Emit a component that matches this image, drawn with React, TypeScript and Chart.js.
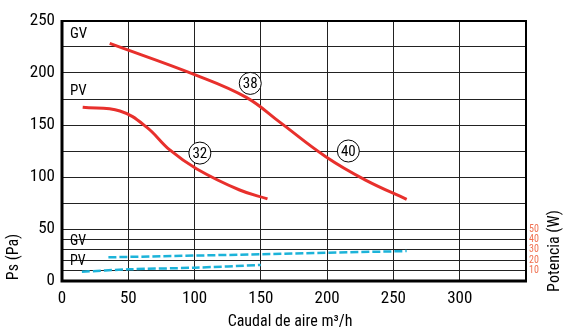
import React, { useEffect, useRef } from 'react';
import { Chart, registerables } from 'chart.js';

Chart.register(...registerables);

const FONT = "'Liberation Sans Narrow', 'Roboto Condensed', 'Roboto', sans-serif";

// Pressure curves (Ps, Pa) vs air flow (m³/h)
const pvQ = [15.6, 43.7, 63.8, 81.3, 101.4, 134, 155];
const pvPs = [167, 163.5, 148, 126, 108, 87.5, 79];
const gvQ = [36, 101, 139, 164, 199, 229, 260];
const gvPs = [228.5, 198, 176.6, 153, 119.5, 97, 78.5];

// Power curves (W) vs air flow
const gvPowQ = [35, 150, 260];
const gvPow = [22.8, 25.7, 28.8];
const pvPowQ = [15, 50, 100, 150];
const pvPow = [8.9, 11.2, 12.8, 15.4];

// Bubble labels on the curves
const bubbleText = ['38', '32', '40'];
const bubbleQ = [142, 104, 216];
const bubblePs = [190, 123, 125];

// Side labels (speed names)
const speedText = ['GV', 'PV', 'GV', 'PV'];
const speedPs = [237, 182, 38, 19];

// Axes
const xTicks = [0, 50, 100, 150, 200, 250, 300, 350];
const yTicks = [0, 10, 20, 30, 40, 50, 75, 100, 125, 150, 175, 200, 225, 250];
const yLabelTicks = [0, 50, 100, 150, 200, 250];
const powerTicks = [10, 20, 30, 40, 50];

const RED = '#e8302c';
const BLUE = '#1cb3d9';

const overlay = {
  id: 'overlay',
  afterDatasetsDraw(chart: any) {
    const { ctx, scales } = chart;
    const sx = scales.x;
    const sy = scales.y;
    ctx.save();
    for (let i = 0; i < bubbleText.length; i++) {
      const px = sx.getPixelForValue(bubbleQ[i]);
      const py = sy.getPixelForValue(bubblePs[i]);
      ctx.beginPath();
      ctx.arc(px, py, 11, 0, Math.PI * 2);
      ctx.fillStyle = '#fff';
      ctx.fill();
      ctx.lineWidth = 1;
      ctx.strokeStyle = '#000';
      ctx.stroke();
      ctx.fillStyle = '#000';
      ctx.font = `15px ${FONT}`;
      ctx.textAlign = 'center';
      ctx.textBaseline = 'middle';
      ctx.fillText(bubbleText[i], px, py + 1);
    }
    ctx.restore();
  },
  afterDraw(chart: any) {
    const { ctx, chartArea: a, scales } = chart;
    const sy = scales.y;
    ctx.save();
    // frame
    ctx.strokeStyle = '#000';
    ctx.lineWidth = 2;
    ctx.beginPath();
    ctx.moveTo(a.left, a.top);
    ctx.lineTo(a.right, a.top);
    ctx.lineTo(a.right, a.bottom);
    ctx.stroke();
    ctx.lineWidth = 3;
    ctx.beginPath();
    ctx.moveTo(a.left, a.top - 1);
    ctx.lineTo(a.left, a.bottom);
    ctx.lineTo(a.right + 1, a.bottom);
    ctx.stroke();

    // speed labels
    ctx.fillStyle = '#000';
    ctx.textAlign = 'left';
    ctx.textBaseline = 'middle';
    for (let i = 0; i < speedText.length; i++) {
      ctx.font = `${i < 2 ? 15 : 14}px ${FONT}`;
      ctx.fillText(speedText[i], a.left + 8, sy.getPixelForValue(speedPs[i]));
    }

    // axis titles
    ctx.font = `16px ${FONT}`;
    ctx.textAlign = 'center';
    ctx.textBaseline = 'middle';
    ctx.fillText('Caudal de aire m³/h', 290, 322);

    ctx.save();
    ctx.translate(14, 257);
    ctx.rotate(-Math.PI / 2);
    ctx.fillText('Ps (Pa)', 0, 0);
    ctx.restore();

    ctx.save();
    ctx.translate(555, 251);
    ctx.rotate(-Math.PI / 2);
    ctx.fillText('Potencia (W)', 0, 0);
    ctx.restore();

    ctx.restore();
  },
};

export default function App() {
  const ref = useRef<HTMLCanvasElement | null>(null);

  useEffect(() => {
    if (!ref.current) return;
    const chart = new Chart(ref.current, {
      type: 'line',
      data: {
        datasets: [
          {
            data: gvPowQ.map((q, i) => ({ x: q, y: gvPow[i] })),
            yAxisID: 'y2',
            borderColor: BLUE,
            borderWidth: 2.5,
            borderDash: [8, 3],
            pointRadius: 0,
            tension: 0,
          },
          {
            data: pvPowQ.map((q, i) => ({ x: q, y: pvPow[i] })),
            yAxisID: 'y2',
            borderColor: BLUE,
            borderWidth: 2.5,
            borderDash: [8, 3],
            pointRadius: 0,
            tension: 0.3,
          },
          {
            data: gvQ.map((q, i) => ({ x: q, y: gvPs[i] })),
            borderColor: RED,
            borderWidth: 3,
            pointRadius: 0,
            tension: 0.4,
          },
          {
            data: pvQ.map((q, i) => ({ x: q, y: pvPs[i] })),
            borderColor: RED,
            borderWidth: 3,
            pointRadius: 0,
            tension: 0.4,
          },
        ],
      },
      options: {
        animation: false,
        responsive: false,
        maintainAspectRatio: false,
        layout: { padding: { top: 21, left: 0, right: 0, bottom: 0 } },
        plugins: { legend: { display: false }, tooltip: { enabled: false }, title: { display: false } },
        scales: {
          x: {
            type: 'linear',
            min: 0,
            max: 350,
            afterBuildTicks: (s: any) => {
              s.ticks = xTicks.map((v) => ({ value: v }));
            },
            afterFit: (s: any) => {
              s.height = 48;
            },
            border: { display: false },
            grid: { color: '#222', lineWidth: 1, drawTicks: false },
            ticks: {
              autoSkip: false,
              maxRotation: 0,
              padding: 8,
              color: '#000',
              font: { family: FONT, size: 17 },
              callback: (v: any) => (v === 350 ? '' : String(v)),
            },
          },
          y: {
            type: 'linear',
            position: 'left',
            min: 0,
            max: 250,
            afterBuildTicks: (s: any) => {
              s.ticks = yTicks.map((v) => ({ value: v }));
            },
            afterFit: (s: any) => {
              s.width = 62;
            },
            border: { display: false },
            grid: { color: '#222', lineWidth: 1, drawTicks: false },
            ticks: {
              autoSkip: false,
              padding: 7,
              color: '#000',
              font: { family: FONT, size: 17 },
              callback: (v: any) => (yLabelTicks.includes(v) ? String(v) : ''),
            },
          },
          y2: {
            type: 'linear',
            position: 'right',
            min: 0,
            max: 250,
            afterBuildTicks: (s: any) => {
              s.ticks = powerTicks.map((v) => ({ value: v }));
            },
            afterFit: (s: any) => {
              s.width = 37;
            },
            border: { display: false },
            grid: { display: false, drawTicks: false },
            ticks: {
              autoSkip: false,
              padding: 3,
              color: '#f07050',
              font: { family: FONT, size: 10 },
              callback: (v: any) => String(v),
            },
          },
        },
      },
      plugins: [overlay],
    } as any);
    return () => chart.destroy();
  }, []);

  return (
    <div style={{ position: 'fixed', left: 0, top: 0, width: 563, height: 329, background: '#fff' }}>
      <canvas ref={ref} width={563} height={329} style={{ display: 'block' }} />
    </div>
  );
}
